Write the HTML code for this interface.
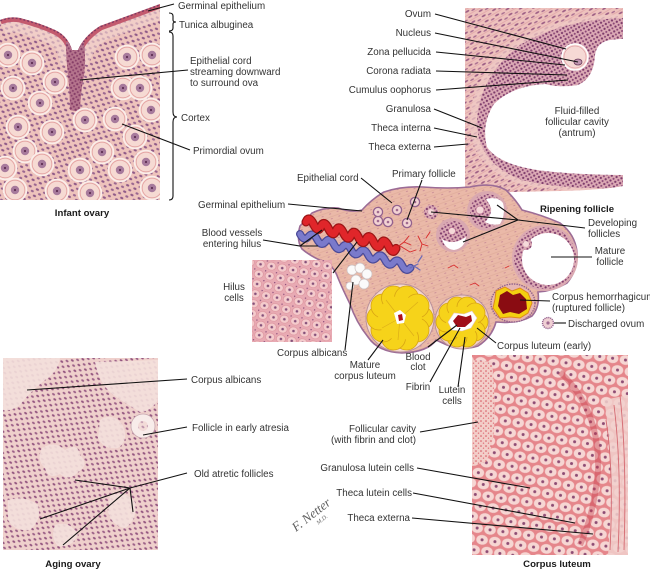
<!DOCTYPE html>
<html><head><meta charset="utf-8">
<style>
html,body{margin:0;padding:0;background:#fff;}
svg{display:block;}
text{font-family:"Liberation Sans",sans-serif;font-size:9.8px;fill:#333;}
text.b{font-weight:bold;font-size:9.6px;fill:#1a1a1a;}
.l{stroke:#111;stroke-width:1.1;fill:none;}
</style></head><body>
<svg width="650" height="570" viewBox="0 0 650 570" xmlns="http://www.w3.org/2000/svg">
<defs>
 <pattern id="pInf" width="8" height="7" patternUnits="userSpaceOnUse" patternTransform="rotate(25)">
  <rect width="8" height="7" fill="#eec3bc"/>
  <ellipse cx="2" cy="2" rx="1.7" ry="1.1" fill="#8f5a88"/>
  <ellipse cx="6" cy="5.5" rx="1.6" ry="1.1" fill="#9a6690"/>
 </pattern>
 <pattern id="pTheca" width="12" height="6" patternUnits="userSpaceOnUse" patternTransform="rotate(-30)">
  <rect width="12" height="6" fill="#eec2bd"/>
  <line x1="0" y1="1" x2="12" y2="1" stroke="#dfa2a6" stroke-width="0.7"/>
  <ellipse cx="3" cy="3.5" rx="2.3" ry="0.9" fill="#9a5a82"/>
  <ellipse cx="9" cy="5" rx="2.1" ry="0.8" fill="#a66a8e"/>
 </pattern>
 <pattern id="pGran" width="5" height="5" patternUnits="userSpaceOnUse" patternTransform="rotate(15)">
  <rect width="5" height="5" fill="#dcaab5"/>
  <circle cx="1.4" cy="1.4" r="1.15" fill="#7c3a6a"/>
  <circle cx="3.9" cy="3.9" r="1.05" fill="#8a4676"/>
 </pattern>
 <pattern id="pStroma" width="8" height="5" patternUnits="userSpaceOnUse" patternTransform="rotate(-20)">
  <rect width="8" height="5" fill="#eab9a8"/>
  <line x1="0" y1="2" x2="8" y2="2" stroke="#dea897" stroke-width="0.6"/>
  <ellipse cx="5" cy="4" rx="1.2" ry="0.5" fill="#c98c96"/>
 </pattern>
 <pattern id="pHilus" width="11" height="10" patternUnits="userSpaceOnUse" patternTransform="rotate(10)">
  <rect width="11" height="10" fill="#e8aab3"/>
  <ellipse cx="5.5" cy="5" rx="4.6" ry="4" fill="#f4cbcc" stroke="#d98c97" stroke-width="0.6"/>
  <circle cx="5.5" cy="5" r="1.3" fill="#84507a"/>
  <circle cx="0.5" cy="0.5" r="0.8" fill="#8a4a78"/>
 </pattern>
 <pattern id="pAge" width="8" height="7" patternUnits="userSpaceOnUse" patternTransform="rotate(35)">
  <rect width="8" height="7" fill="#efd0cc"/>
  <ellipse cx="2" cy="1.8" rx="1.6" ry="1" fill="#93557f"/>
  <ellipse cx="6" cy="5.2" rx="1.6" ry="1" fill="#9c6088"/>
 </pattern>
 <pattern id="pCL" width="13" height="22" patternUnits="userSpaceOnUse" patternTransform="rotate(8)">
  <rect width="13" height="22" fill="#e5868b"/>
  <ellipse cx="6.5" cy="5.5" rx="5.8" ry="4.9" fill="#f6d6d3"/>
  <ellipse cx="0" cy="16.5" rx="5.8" ry="4.9" fill="#f6d6d3"/>
  <ellipse cx="13" cy="16.5" rx="5.8" ry="4.9" fill="#f6d6d3"/>
  <circle cx="6.5" cy="5.5" r="1.5" fill="#8e4c74"/>
  <circle cx="0" cy="16.5" r="1.5" fill="#8e4c74"/>
  <circle cx="13" cy="16.5" r="1.5" fill="#8e4c74"/>
 </pattern>
 <pattern id="pSpeck" width="5" height="5" patternUnits="userSpaceOnUse">
  <rect width="5" height="5" fill="#f3cfca"/>
  <circle cx="1" cy="1" r="0.8" fill="#d4505a"/>
  <circle cx="3.5" cy="3.2" r="0.7" fill="#e07078"/>
 </pattern>
 <g id="ov">
  <circle r="11.5" fill="#f6dad3" stroke="#fbeeea" stroke-width="1.6"/>
  <circle r="9.8" fill="none" stroke="#e3a0a0" stroke-width="0.8"/>
  <circle r="4.2" fill="#a77a9c"/>
  <circle r="1.1" fill="#5e2f52"/>
 </g>
 <g id="pf">
  <circle r="4.6" fill="#f3d3d3" stroke="#94628e" stroke-width="1.3"/>
  <circle r="1.3" fill="#a06a90"/>
 </g>
 <clipPath id="cInf"><path d="M0,20 Q10,16 20,18 Q40,23 55,30 Q68,36 72,50 L78,50 Q84,36 100,26 Q130,15 160,4 L160,200 L0,200 Z"/></clipPath>
 <clipPath id="cRip"><path d="M465,8 L623,8 L623,186 Q600,190 560,191 L465,193 Z"/></clipPath>
</defs>

<!-- ============ INFANT OVARY ============ -->
<g clip-path="url(#cInf)">
 <rect x="0" y="0" width="160" height="200" fill="url(#pInf)"/>
 <path d="M0,20 Q10,16 20,18 Q40,23 55,30 Q68,36 72,50 L78,50 Q84,36 100,26 Q130,15 160,4" fill="none" stroke="#f3d6d0" stroke-width="30" opacity="0.6"/>
 <path d="M0,20 Q10,16 20,18 Q40,23 55,30 Q68,36 72,50 L78,50 Q84,36 100,26 Q130,15 160,4" fill="none" stroke="#c35a6e" stroke-width="9"/>
 <path d="M0,20 Q10,16 20,18 Q40,23 55,30 Q68,36 72,50 L78,50 Q84,36 100,26 Q130,15 160,4" fill="none" stroke="#7e3a62" stroke-width="3" stroke-dasharray="2 2"/>
 <path d="M66,42 L84,42 Q86,60 84,75 Q80,95 80,112 L70,110 Q70,92 68,75 Q66,58 66,42 Z" fill="#8e3f64"/>
 <path d="M66,42 L84,42 Q86,60 84,75 Q80,95 80,112 L70,110 Q70,92 68,75 Q66,58 66,42 Z" fill="url(#pGran)" opacity="0.5"/>
 <use href="#ov" x="8" y="55"/><use href="#ov" x="32" y="63"/><use href="#ov" x="55" y="82"/>
 <use href="#ov" x="13" y="88"/><use href="#ov" x="40" y="103"/><use href="#ov" x="127" y="57"/>
 <use href="#ov" x="152" y="55"/><use href="#ov" x="123" y="88"/><use href="#ov" x="140" y="88"/>
 <use href="#ov" x="151" y="110"/><use href="#ov" x="85" y="120"/><use href="#ov" x="115" y="119"/>
 <use href="#ov" x="18" y="127"/><use href="#ov" x="52" y="132"/><use href="#ov" x="135" y="137"/>
 <use href="#ov" x="25" y="151"/><use href="#ov" x="42" y="164"/><use href="#ov" x="102" y="152"/>
 <use href="#ov" x="146" y="162"/><use href="#ov" x="80" y="170"/><use href="#ov" x="120" y="170"/>
 <use href="#ov" x="5" y="168"/><use href="#ov" x="15" y="190"/><use href="#ov" x="57" y="191"/>
 <use href="#ov" x="90" y="193"/><use href="#ov" x="152" y="188"/>
</g>
<!-- braces -->
<path class="l" d="M169,13 Q173,13 173,16 L173,20 Q173,22 176,22 Q173,22 173,24 L173,28 Q173,31 169,31"/>
<path class="l" d="M169,32 Q173,32 173,36 L173,112 Q173,117 177,117 Q173,117 173,122 L173,196 Q173,200 169,200"/>
<line class="l" x1="148" y1="11" x2="174" y2="4"/>
<line class="l" x1="80" y1="80" x2="188" y2="70"/>
<line class="l" x1="122" y1="124" x2="190" y2="150"/>
<text x="178" y="9">Germinal epithelium</text>
<text x="179" y="28">Tunica albuginea</text>
<text x="190" y="64">Epithelial cord</text>
<text x="190" y="75">streaming downward</text>
<text x="190" y="86">to surround ova</text>
<text x="181" y="121">Cortex</text>
<text x="193" y="154">Primordial ovum</text>
<text class="b" x="82" y="216" text-anchor="middle">Infant ovary</text>

<!-- ============ RIPENING FOLLICLE ============ -->
<g clip-path="url(#cRip)">
 <rect x="465" y="8" width="158" height="186" fill="url(#pTheca)"/>
 <path d="M630,14 Q560,14 515,42 Q470,75 470,125 Q472,168 520,184 Q560,193 630,190 Z" fill="#efcac6" opacity="0.7"/>
 <path d="M630,18 Q565,18 520,45 Q477,78 477,125 Q479,164 522,180 Q560,190 630,188 Z" fill="url(#pGran)"/>
 <path d="M630,38 L610,40 Q597,42 595,55 Q594,78 578,85 Q560,88 545,84 Q512,86 494,104 Q481,124 487,147 Q500,166 545,171 Q580,175 630,175 Z" fill="#fff"/>
 <circle cx="575" cy="57" r="13" fill="#f6d9d5" stroke="#fff" stroke-width="1.6"/>
 <circle cx="575" cy="57" r="11" fill="none" stroke="#e2a4a8" stroke-width="0.8"/>
 <ellipse cx="578" cy="62" rx="4" ry="3" fill="#c096b0" stroke="#6a3a5a" stroke-width="0.8"/>
</g>
<line class="l" x1="435" y1="14" x2="566" y2="49"/>
<line class="l" x1="435" y1="33" x2="578" y2="62"/>
<line class="l" x1="436" y1="52" x2="565" y2="65"/>
<line class="l" x1="436" y1="71" x2="567" y2="75"/>
<line class="l" x1="436" y1="90" x2="568" y2="80"/>
<line class="l" x1="434" y1="109" x2="482" y2="128"/>
<line class="l" x1="434" y1="128" x2="477" y2="137"/>
<line class="l" x1="434" y1="147" x2="468" y2="144"/>
<text x="431" y="17" text-anchor="end">Ovum</text>
<text x="431" y="36" text-anchor="end">Nucleus</text>
<text x="431" y="55" text-anchor="end">Zona pellucida</text>
<text x="431" y="74" text-anchor="end">Corona radiata</text>
<text x="431" y="93" text-anchor="end">Cumulus oophorus</text>
<text x="431" y="112" text-anchor="end">Granulosa</text>
<text x="431" y="131" text-anchor="end">Theca interna</text>
<text x="431" y="150" text-anchor="end">Theca externa</text>
<text x="577" y="114" text-anchor="middle">Fluid-filled</text>
<text x="577" y="125" text-anchor="middle">follicular cavity</text>
<text x="577" y="136" text-anchor="middle">(antrum)</text>
<text class="b" x="577" y="212" text-anchor="middle">Ripening follicle</text>

<!-- ============ CENTRAL OVARY ============ -->
<path d="M300,226 L312,213 Q325,207 338,208 Q352,213 362,210 Q372,199 384,192 Q402,186 423,187 Q448,189 470,187 Q492,182 506,190 Q516,200 522,210 Q542,215 560,223 Q575,234 577,252 Q578,270 567,283 Q553,291 538,292 Q540,307 532,316 Q518,324 496,322 Q492,337 478,346 Q462,351 447,345 L436,340 Q428,352 402,353 Q378,352 368,337 Q356,322 350,304 Q343,290 338,278 Q334,266 324,262 Q310,256 302,249 Q296,240 300,226 Z" fill="url(#pStroma)" stroke="#9c6c96" stroke-width="1.6"/>
<use href="#pf" x="397" y="210"/><use href="#pf" x="415" y="202"/><use href="#pf" x="407" y="223"/>
<use href="#pf" x="388" y="222"/><use href="#pf" x="378" y="221"/><use href="#pf" x="378" y="212"/>
<circle cx="431" cy="212" r="7" fill="url(#pGran)"/><circle cx="431" cy="212" r="3" fill="#f4d6d6"/>
<circle cx="487" cy="211" r="20" fill="#d9a8b0"/>
<circle cx="487" cy="211" r="17" fill="url(#pGran)"/>
<path d="M486,199 Q498,196 503,203 Q506,214 500,224 Q492,226 485,222 Q492,215 491,208 Q489,203 486,199 Z" fill="#fff"/>
<circle cx="480" cy="210" r="4" fill="#f4d8d8" stroke="#c07a98" stroke-width="0.7"/>
<circle cx="453" cy="235" r="17" fill="#d9a8b0"/>
<circle cx="453" cy="235" r="14" fill="url(#pGran)"/>
<path d="M442,239 Q453,246 466,237 Q465,248 454,250 Q445,249 442,239 Z" fill="#fff"/>
<circle cx="452" cy="231" r="3.5" fill="#f4d8d8" stroke="#c07a98" stroke-width="0.7"/>
<circle cx="545" cy="258" r="33" fill="#dcabb2"/>
<circle cx="545" cy="258" r="31" fill="url(#pGran)"/>
<circle cx="548" cy="259" r="26" fill="#fff"/>
<circle cx="526" cy="244" r="6" fill="url(#pGran)"/>
<circle cx="526" cy="244" r="3" fill="#f5dada"/>
<g fill="none" stroke-linecap="round">
 <path d="M300,234 q4,8 8.5,2.6 t8.5,2.6 t8.5,2.6 t8.5,2.6 t8.5,2.6 t8.5,2.6 t8.5,2.6 t8.5,2.6 t8.5,2.6 t8.5,2.6 t8.5,2.6 t8.5,2.6 t8.5,2.6" stroke="#4a4a98" stroke-width="8"/>
 <path d="M300,234 q4,8 8.5,2.6 t8.5,2.6 t8.5,2.6 t8.5,2.6 t8.5,2.6 t8.5,2.6 t8.5,2.6 t8.5,2.6 t8.5,2.6 t8.5,2.6 t8.5,2.6 t8.5,2.6 t8.5,2.6" stroke="#7a7acb" stroke-width="5.5"/>
 <path d="M410,268 l8,-4 M414,266 l6,4 M418,262 l4,-6" stroke="#6a6ab8" stroke-width="1.2"/>
 <path d="M306,222 q3,-7 7.5,2.2 t7.5,2.2 t7.5,2.2 t7.5,2.2 t7.5,2.2 t7.5,2.2 t7.5,2.2 t7.5,2.2 t7.5,2.2 t7.5,2.2 t7.5,2.2 t7.5,2.2" stroke="#9c1515" stroke-width="9"/>
 <path d="M306,222 q3,-7 7.5,2.2 t7.5,2.2 t7.5,2.2 t7.5,2.2 t7.5,2.2 t7.5,2.2 t7.5,2.2 t7.5,2.2 t7.5,2.2 t7.5,2.2 t7.5,2.2 t7.5,2.2" stroke="#e0262a" stroke-width="6.5"/>
 <path d="M396,248 l8,-6 l5,-6 M404,242 l7,3 M400,246 l10,6 M410,252 l6,-2 M418,236 l4,8 l6,2 M422,244 l-2,7 M430,232 l-4,6" stroke="#d82a2a" stroke-width="0.9"/>
 <path d="M448,268 l6,-3 l4,3 M470,285 l5,-2 l4,3 M505,268 l4,-2" stroke="#d83030" stroke-width="0.8"/>
</g>
<g fill="#fbfafa" stroke="#cbbfc0" stroke-width="0.7">
 <circle cx="352" cy="270" r="5"/><circle cx="360" cy="268" r="5"/><circle cx="367" cy="274" r="5"/>
 <circle cx="356" cy="280" r="5"/><circle cx="364" cy="284" r="5"/><circle cx="350" cy="286" r="4"/>
</g>
<circle cx="400" cy="318" r="34" fill="#f4d8cc" stroke="#b8909c" stroke-width="1"/>
<g fill="#f6d31a" stroke="#d8a414" stroke-width="0.8">
 <circle cx="421" cy="318" r="12"/><circle cx="417" cy="330" r="12"/><circle cx="406.5" cy="338" r="12"/>
 <circle cx="393.5" cy="338" r="12"/><circle cx="383" cy="330" r="12"/><circle cx="379" cy="318" r="12"/>
 <circle cx="383" cy="306" r="12"/><circle cx="393.5" cy="298" r="12"/><circle cx="406.5" cy="298" r="12"/>
 <circle cx="417" cy="306" r="12"/>
</g>
<circle cx="400" cy="318" r="22" fill="#f6d31a"/>
<path d="M400,318 L386,300 M400,318 L418,302 M400,318 L382,328 M400,318 L414,336 M400,318 L398,340" stroke="#dcae18" stroke-width="0.7" fill="none"/>
<path d="M394,313 L400,310 L406,315 L404,323 L397,324 Z" fill="#fff"/>
<path d="M398,315 L402,314 L403,320 L399,321 Z" fill="#b01018"/>
<circle cx="462" cy="322" r="27" fill="#f1cfc6" stroke="#b8909c" stroke-width="1"/>
<g fill="#f6d31a" stroke="#d8a414" stroke-width="0.8">
 <circle cx="478" cy="322" r="10"/><circle cx="475" cy="331" r="10"/><circle cx="467" cy="337" r="10"/>
 <circle cx="457" cy="337" r="10"/><circle cx="449" cy="331" r="10"/><circle cx="446" cy="322" r="10"/>
 <circle cx="449" cy="313" r="10"/><circle cx="457" cy="307" r="10"/><circle cx="467" cy="307" r="10"/>
 <circle cx="475" cy="313" r="10"/>
</g>
<circle cx="462" cy="322" r="16" fill="#f6d31a"/>
<path d="M448,322 L454,313 L464,314 L472,311 L477,318 L471,328 L462,331 L452,330 Z" fill="#fff" stroke="#e8c8c0" stroke-width="0.6"/>
<path d="M453,321 L458,315 L466,317 L471,315 L472,321 L465,327 L457,327 Z" fill="#a00e18"/>
<ellipse cx="513" cy="303" rx="22" ry="19" fill="#e6b6b4" stroke="#93628c" stroke-width="1.4" stroke-dasharray="1.5 1"/>
<path d="M496,291 L505,287 L512,291 L520,288 L528,293 L532,303 L528,313 L520,318 L510,317 L500,318 L493,308 L495,299 Z" fill="#f3d010" stroke="#e08a1c" stroke-width="1"/>
<path d="M500,295 L507,291 L513,295 L520,293 L526,299 L527,309 L519,314 L510,312 L503,314 L498,306 Z" fill="#8a0c12"/>
<circle cx="548" cy="323" r="5.5" fill="#f0d0d4" stroke="#94628e" stroke-width="1.4" stroke-dasharray="1.2 0.8"/>
<circle cx="548" cy="323" r="1.6" fill="#a06a90"/>

<rect x="252" y="260" width="80" height="82" fill="url(#pHilus)"/>

<line class="l" x1="361" y1="178" x2="392" y2="203"/>
<line class="l" x1="422" y1="180" x2="407" y2="220"/>
<line class="l" x1="288" y1="204" x2="362" y2="211"/>
<polyline class="l" points="263,240 300,246 322,230"/>
<line class="l" x1="300" y1="246" x2="318" y2="246"/>
<line class="l" x1="333" y1="273" x2="357" y2="242"/>
<line class="l" x1="345" y1="350" x2="353" y2="282"/>
<line class="l" x1="368" y1="360" x2="383" y2="340"/>
<line class="l" x1="428" y1="347" x2="457" y2="325"/>
<line class="l" x1="430" y1="382" x2="460" y2="328"/>
<line class="l" x1="458" y1="387" x2="465" y2="337"/>
<line class="l" x1="496" y1="343" x2="477" y2="328"/>
<line class="l" x1="550" y1="301" x2="520" y2="300"/>
<line class="l" x1="554" y1="323" x2="566" y2="323"/>
<polyline class="l" points="585,228 518,220 431,212"/>
<line class="l" x1="518" y1="220" x2="497" y2="205"/>
<line class="l" x1="518" y1="220" x2="463" y2="242"/>
<line class="l" x1="592" y1="257" x2="551" y2="257"/>

<text x="297" y="181">Epithelial cord</text>
<text x="392" y="177">Primary follicle</text>
<text x="198" y="208">Germinal epithelium</text>
<text x="232" y="236" text-anchor="middle">Blood vessels</text>
<text x="232" y="247" text-anchor="middle">entering hilus</text>
<text x="234" y="290" text-anchor="middle">Hilus</text>
<text x="234" y="301" text-anchor="middle">cells</text>
<text x="277" y="356">Corpus albicans</text>
<text x="365" y="368" text-anchor="middle">Mature</text>
<text x="365" y="379" text-anchor="middle">corpus luteum</text>
<text x="418" y="360" text-anchor="middle">Blood</text>
<text x="418" y="370" text-anchor="middle">clot</text>
<text x="418" y="390" text-anchor="middle">Fibrin</text>
<text x="452" y="393" text-anchor="middle">Lutein</text>
<text x="452" y="404" text-anchor="middle">cells</text>
<text x="497" y="349">Corpus luteum (early)</text>
<text x="552" y="300">Corpus hemorrhagicum</text>
<text x="552" y="311">(ruptured follicle)</text>
<text x="568" y="327">Discharged ovum</text>
<text x="588" y="226">Developing</text>
<text x="588" y="237">follicles</text>
<text x="610" y="254" text-anchor="middle">Mature</text>
<text x="610" y="265" text-anchor="middle">follicle</text>

<!-- ============ AGING OVARY ============ -->
<rect x="3" y="358" width="155" height="192" fill="url(#pAge)"/>
<g fill="#f4e0dc" opacity="0.9">
 <path d="M3,358 L60,358 Q58,372 45,380 Q30,392 20,405 Q10,412 3,410 Z"/>
 <path d="M95,362 L158,360 L158,400 Q150,412 140,412 Q128,405 118,398 Q100,388 95,362 Z"/>
 <path d="M42,448 Q55,440 65,450 Q78,442 80,455 Q90,465 78,472 Q70,482 60,474 Q48,480 45,468 Q36,460 42,448 Z"/>
 <path d="M100,420 Q112,412 122,424 Q130,440 118,448 Q104,450 98,438 Z"/>
 <path d="M110,495 Q125,490 135,502 Q138,520 125,528 Q112,526 108,512 Z"/>
 <path d="M8,500 Q25,495 38,505 Q42,520 30,530 Q15,532 8,520 Z"/>
 <path d="M55,525 Q70,520 78,535 Q72,548 58,546 Q50,538 55,525 Z"/>
</g>
<circle cx="143" cy="426" r="12" fill="#f8ecea" stroke="#c8a8b0" stroke-width="0.8"/>
<circle cx="143" cy="426" r="5" fill="url(#pAge)" opacity="0.6"/>
<line class="l" x1="27" y1="390" x2="187" y2="379"/>
<line class="l" x1="143" y1="435" x2="187" y2="427"/>
<polyline class="l" points="187,473 130,488 75,480"/>
<line class="l" x1="130" y1="488" x2="40" y2="519"/>
<line class="l" x1="130" y1="488" x2="63" y2="545"/>
<line class="l" x1="130" y1="488" x2="133" y2="512"/>
<text x="191" y="383">Corpus albicans</text>
<text x="192" y="431">Follicle in early atresia</text>
<text x="194" y="477">Old atretic follicles</text>
<text class="b" x="73" y="567" text-anchor="middle">Aging ovary</text>

<g transform="translate(296,532) rotate(-38)">
 <text x="0" y="0" style="font-family:'Liberation Serif',serif;font-style:italic;font-size:13px;fill:#5e5e5e">F. Netter</text>
 <text x="22" y="8" style="font-family:'Liberation Serif',serif;font-style:italic;font-size:6px;fill:#6a6a6a">M.D.</text>
</g>

<!-- ============ CORPUS LUTEUM ============ -->
<rect x="472" y="355" width="156" height="200" fill="url(#pCL)"/>
<path d="M472,360 L492,362 Q496,400 494,430 Q492,450 486,462 L472,466 Z" fill="url(#pSpeck)" opacity="0.95"/>
<path d="M560,372 Q600,410 598,470 Q594,515 580,545" fill="none" stroke="#c83a48" stroke-width="6" opacity="0.4"/>
<path d="M604,400 Q615,460 608,555 L628,555 L628,395 Z" fill="#f1d0cc" opacity="0.85"/>
<path d="M606,420 Q614,470 610,550 M614,405 Q622,470 618,552 M620,395 Q627,460 624,550" fill="none" stroke="#d46a72" stroke-width="0.9"/>
<line class="l" x1="420" y1="432" x2="478" y2="422"/>
<line class="l" x1="417" y1="468" x2="530" y2="488"/>
<line class="l" x1="413" y1="493" x2="575" y2="523"/>
<line class="l" x1="412" y1="518" x2="593" y2="534"/>
<text x="416" y="432" text-anchor="end">Follicular cavity</text>
<text x="416" y="443" text-anchor="end">(with fibrin and clot)</text>
<text x="414" y="471" text-anchor="end">Granulosa lutein cells</text>
<text x="412" y="496" text-anchor="end">Theca lutein cells</text>
<text x="410" y="521" text-anchor="end">Theca externa</text>
<text class="b" x="557" y="567" text-anchor="middle">Corpus luteum</text>
</svg>
</body></html>
